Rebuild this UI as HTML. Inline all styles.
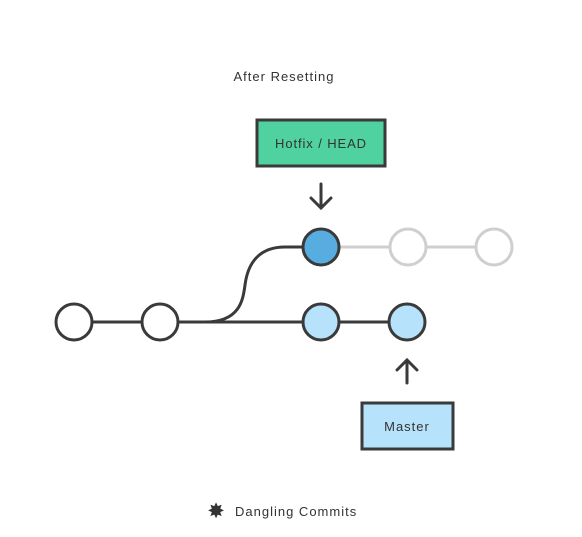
<!DOCTYPE html>
<html><head><style>body{margin:0;background:#fff}svg{display:block}</style></head><body>
<svg width="582" height="537" viewBox="0 0 582 537" xmlns="http://www.w3.org/2000/svg" font-family="Liberation Sans, sans-serif">
<text x="284" y="81" text-anchor="middle" font-size="13" fill="#333" letter-spacing="1">After Resetting</text>
<rect x="257" y="120" width="128" height="46" fill="#4fd1a0" stroke="#3a3a3a" stroke-width="3"/>
<text x="321" y="148" text-anchor="middle" font-size="13" fill="#333" letter-spacing="0.9">Hotfix / HEAD</text>
<g stroke="#3a3a3a" stroke-width="3" fill="none" stroke-linecap="round">
<path d="M321 184 V208 M311 198 L321 208 L331 198"/>
<path d="M407 383 V360 M397 370 L407 360 L417 370"/>
</g>
<line x1="339" y1="247" x2="476" y2="247" stroke="#cfcfcf" stroke-width="3"/>
<line x1="74" y1="322" x2="407" y2="322" stroke="#3a3a3a" stroke-width="3"/>
<path d="M205 322 C240 322 243 300 245 285 C248 262 260 247 285 247 H305" stroke="#3a3a3a" stroke-width="3" fill="none"/>
<g stroke-width="3">
<circle cx="74" cy="322" r="18" fill="#fff" stroke="#3a3a3a"/>
<circle cx="160" cy="322" r="18" fill="#fff" stroke="#3a3a3a"/>
<circle cx="321" cy="322" r="18" fill="#b7e2fb" stroke="#3a3a3a"/>
<circle cx="407" cy="322" r="18" fill="#b7e2fb" stroke="#3a3a3a"/>
<circle cx="321" cy="247" r="18" fill="#58ade0" stroke="#3a3a3a"/>
<circle cx="408" cy="247" r="18" fill="#fff" stroke="#cfcfcf"/>
<circle cx="494" cy="247" r="18" fill="#fff" stroke="#cfcfcf"/>
</g>
<rect x="362" y="403" width="91" height="46" fill="#b7e2fb" stroke="#3a3a3a" stroke-width="3"/>
<text x="407" y="431" text-anchor="middle" font-size="13" fill="#333" letter-spacing="1">Master</text>
<text x="216" y="518" text-anchor="middle" font-size="21" fill="#333">✸</text>
<text x="235" y="516" font-size="13" fill="#333" letter-spacing="1">Dangling Commits</text>
</svg>
</body></html>
